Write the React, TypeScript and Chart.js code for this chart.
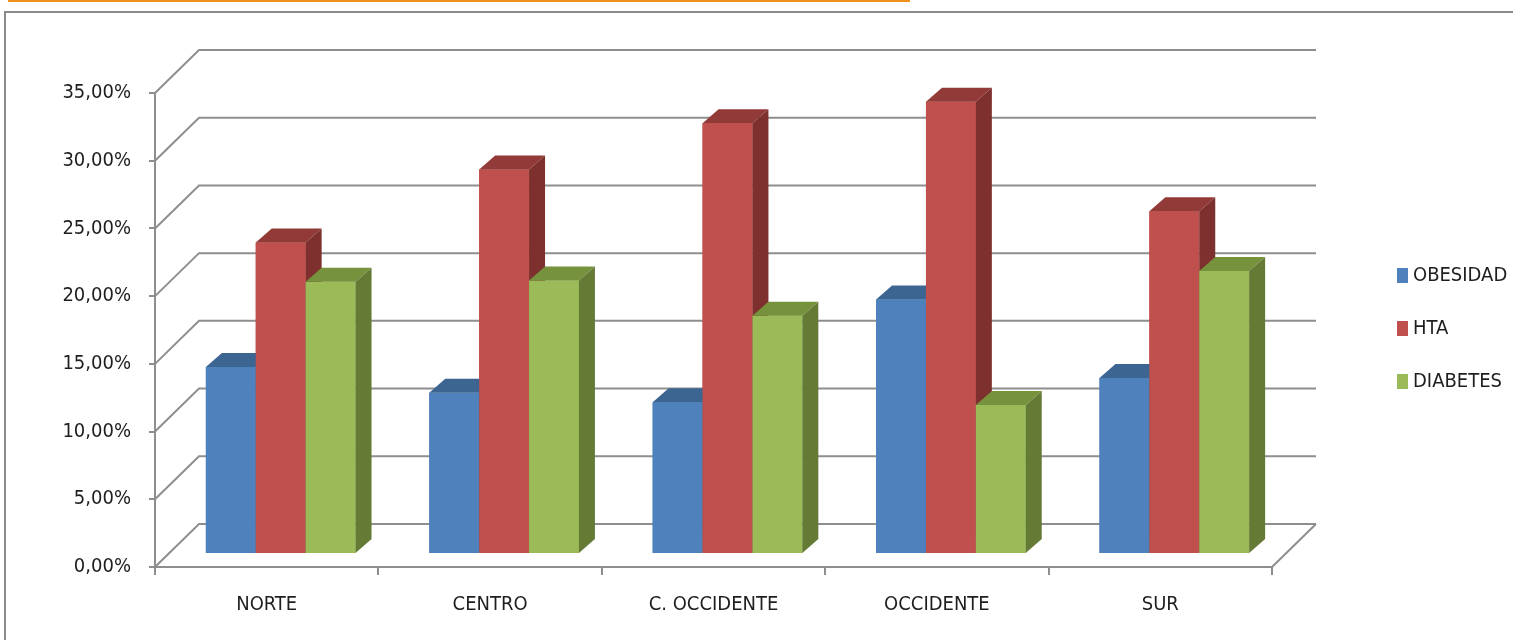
import React, { useEffect, useRef } from "react";
import { Chart, registerables } from "chart.js";

Chart.register(...registerables);

const categories = ["NORTE", "CENTRO", "C. OCCIDENTE", "OCCIDENTE", "SUR"];
const seriesNames = ["OBESIDAD", "HTA", "DIABETES"];
const obesidad = [13.8, 11.9, 11.2, 18.8, 13.0];
const hta = [23.0, 28.4, 31.8, 33.4, 25.3];
const diabetes = [20.1, 20.2, 17.6, 11.0, 20.9];
const yTicksMax = 35;
const yTickStep = 5;

const FRONT = ["#4F81BD", "#C0504D", "#9BBB59"];
const TOP = ["#3C6592", "#923A38", "#76923C"];
const SIDE = ["#34577F", "#7D302E", "#657A35"];
const GRID = "#8E8E8E";
const TEXT = "#1E1E1E";
const FONT = "'DejaVu Sans Condensed', 'DejaVu Sans', sans-serif";
const FONT_SIZE = 20;

const WALL_DX = 44;
const WALL_DY = -43;
const BAR_SHIFT_X = 14;
const BAR_SHIFT_Y = -13;
const BAR_DEPTH_X = 16;
const BAR_DEPTH_Y = -14;

function drawBar3D(ctx: any, el: any, idx: number) {
  const { x, y, base, width } = el.getProps(["x", "y", "base", "width"], true);
  const l = x - width / 2;
  const r = x + width / 2;
  el.draw(ctx);
  ctx.fillStyle = TOP[idx];
  ctx.beginPath();
  ctx.moveTo(l, y);
  ctx.lineTo(l + BAR_DEPTH_X, y + BAR_DEPTH_Y);
  ctx.lineTo(r + BAR_DEPTH_X, y + BAR_DEPTH_Y);
  ctx.lineTo(r, y);
  ctx.closePath();
  ctx.fill();
  ctx.fillStyle = SIDE[idx];
  ctx.beginPath();
  ctx.moveTo(r, y);
  ctx.lineTo(r + BAR_DEPTH_X, y + BAR_DEPTH_Y);
  ctx.lineTo(r + BAR_DEPTH_X, base + BAR_DEPTH_Y);
  ctx.lineTo(r, base);
  ctx.closePath();
  ctx.fill();
}

const threeD = {
  id: "threeD",
  beforeDatasetsDraw(chart: any) {
    const { ctx, chartArea } = chart;
    const y = chart.scales.y;
    ctx.save();
    ctx.strokeStyle = GRID;
    ctx.lineWidth = 2;
    y.ticks.forEach((t: any) => {
      const py = y.getPixelForValue(t.value);
      ctx.beginPath();
      ctx.moveTo(chartArea.left, py);
      ctx.lineTo(chartArea.left + WALL_DX, py + WALL_DY);
      ctx.lineTo(chartArea.right + WALL_DX, py + WALL_DY);
      ctx.stroke();
    });
    const p0 = y.getPixelForValue(0);
    ctx.beginPath();
    ctx.moveTo(chartArea.right, p0);
    ctx.lineTo(chartArea.right + WALL_DX, p0 + WALL_DY);
    ctx.stroke();
    ctx.restore();
    ctx.save();
    ctx.translate(BAR_SHIFT_X, BAR_SHIFT_Y);
  },
  afterDatasetsDraw(chart: any) {
    const { ctx } = chart;
    const n = chart.data.labels.length;
    for (let c = 0; c < n; c++) {
      chart.data.datasets.forEach((_: any, i: number) => {
        const el = chart.getDatasetMeta(i).data[c];
        if (el) drawBar3D(ctx, el, i);
      });
    }
    ctx.restore();
  },
  afterDraw(chart: any) {
    const { ctx } = chart;
    ctx.save();
    ctx.font = `${FONT_SIZE}px ${FONT}`;
    ctx.textBaseline = "middle";
    ctx.textAlign = "left";
    chart.data.datasets.forEach((ds: any, i: number) => {
      const cy = 275 + i * 53;
      ctx.fillStyle = FRONT[i];
      ctx.fillRect(1397, cy - 7, 11, 15);
      ctx.fillStyle = TEXT;
      ctx.fillText(ds.label, 1413, cy + 1);
    });
    ctx.restore();
  },
};

export default function App() {
  const ref = useRef<HTMLCanvasElement>(null);
  useEffect(() => {
    const chart = new Chart(ref.current!, {
      type: "bar",
      data: {
        labels: categories,
        datasets: [
          { label: seriesNames[0], data: obesidad, backgroundColor: FRONT[0] },
          { label: seriesNames[1], data: hta, backgroundColor: FRONT[1] },
          { label: seriesNames[2], data: diabetes, backgroundColor: FRONT[2] },
        ] as any,
      },
      options: {
        animation: false,
        responsive: false,
        maintainAspectRatio: false,
        layout: { padding: { left: 0, top: 93, right: 241, bottom: 0 } },
        datasets: { bar: { categoryPercentage: 0.67, barPercentage: 1.0, borderWidth: 0, clip: false as any } },
        plugins: { legend: { display: false }, tooltip: { enabled: false } },
        scales: {
          x: {
            grid: { display: true, drawOnChartArea: false, drawTicks: true, tickLength: 8, color: GRID, lineWidth: 2, offset: true },
            border: { display: true, color: GRID, width: 2 },
            ticks: { color: TEXT, font: { family: FONT, size: FONT_SIZE }, padding: 18, maxRotation: 0 },
            afterFit: (s: any) => { s.height = 73; },
          },
          y: {
            min: 0,
            max: yTicksMax,
            grid: { display: true, drawOnChartArea: false, drawTicks: true, tickLength: 6, color: GRID, lineWidth: 2 },
            border: { display: true, color: GRID, width: 2 },
            ticks: {
              stepSize: yTickStep,
              color: TEXT,
              font: { family: FONT, size: FONT_SIZE },
              padding: 18,
              callback: (v: any) => `${Number(v).toFixed(2).replace(".", ",")}%`,
            },
            afterFit: (s: any) => { s.width = 155; },
          },
        },
      },
      plugins: [threeD],
    });
    return () => chart.destroy();
  }, []);
  return (
    <div style={{ position: "fixed", left: 0, top: 0, width: 1513, height: 640, overflow: "hidden", background: "#fff" }}>
      <div style={{ position: "absolute", left: 8, top: 0, width: 902, height: 2, background: "#F0901F" }} />
      <div style={{ position: "absolute", left: 4, top: 11, width: 1700, height: 800, borderLeft: "2px solid #8A8A8A", borderTop: "2px solid #8A8A8A" }} />
      <canvas ref={ref} width={1513} height={640} style={{ position: "absolute", left: 0, top: 0 }} />
    </div>
  );
}
